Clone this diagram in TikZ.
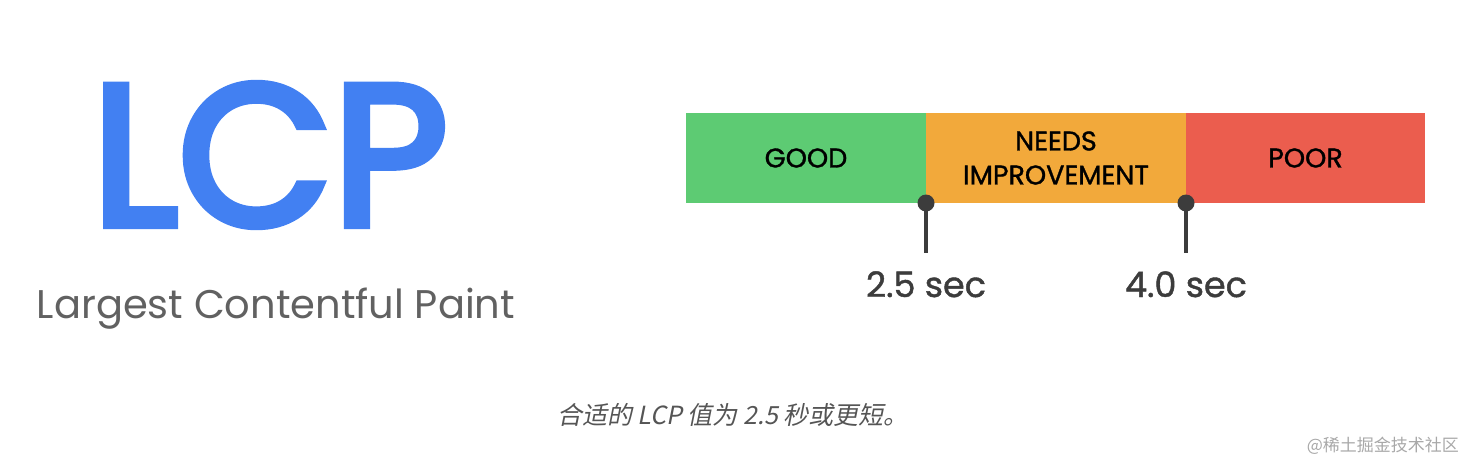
\documentclass[tikz,border=0pt]{standalone}
\usepackage{fontspec}
\setmainfont{Poppins}
\newfontfamily\medfont[FakeBold=1.2]{Poppins}
\newfontfamily\lcpfont[FakeBold=4]{Poppins}
\newfontfamily\cjk{Noto Sans CJK SC}
\newfontfamily\cjkit[FakeSlant=0.2]{Noto Sans CJK SC}
\definecolor{lcpblue}{HTML}{4280F2}
\definecolor{titlegray}{HTML}{616161}
\definecolor{goodgreen}{HTML}{5DCB73}
\definecolor{needorange}{HTML}{F2A93B}
\definecolor{poorred}{HTML}{EB5D4E}
\definecolor{markgray}{HTML}{3C3C3C}
\definecolor{capgray}{HTML}{555555}
\definecolor{wmgray}{HTML}{A8A8A8}
\begin{document}
\begin{tikzpicture}[x=0.5pt,y=-0.5pt,
  seg/.style={minimum height=45pt,inner sep=0pt,outer sep=0pt,font=\medfont\fontsize{13.5}{17}\selectfont,text=black,align=center},
  dot/.style={circle,fill=markgray,inner sep=0pt,minimum size=8.5pt},
  tick/.style={draw=markgray,line width=2pt},
  val/.style={font=\medfont\fontsize{17.5}{20}\selectfont,text=markgray}]
\useasboundingbox (0,0) rectangle (1472,466);
\node[font=\lcpfont\fontsize{100}{100}\selectfont,text=lcpblue,anchor=base] (lcp) at (270,225) {LCP};
\node[font=\fontsize{20}{24}\selectfont,text=titlegray,anchor=base] (title) at (276,318) {Largest Contentful Paint};
\node[seg,fill=goodgreen,minimum width=120pt] (good) at (806,158) {GOOD};
\node[seg,fill=needorange,minimum width=130pt] (need) at (1056,158) {NEEDS\\IMPROVEMENT};
\node[seg,fill=poorred,minimum width=119.5pt] (poor) at (1305.5,158) {POOR};
\node[dot] (d1) at (926,203) {};
\node[dot] (d2) at (1186,203) {};
\coordinate (e1) at (926,253);
\coordinate (e2) at (1186,253);
\draw[tick] (d1.center) -- (e1);
\draw[tick] (d2.center) -- (e2);
\node[val,anchor=base] (v1) at (926,297) {2.5 sec};
\node[val,anchor=base] (v2) at (1186,297) {4.0 sec};
\node[font=\fontsize{12.5}{14}\selectfont,text=capgray,anchor=base] (cap) at (733,424) {\cjkit 合适的 LCP 值为 2.5 秒或更短。};
\node[font=\fontsize{8.5}{10}\selectfont,text=wmgray,anchor=base east] (wm) at (1466,451) {\cjk @稀土掘金技术社区};
\end{tikzpicture}
\end{document}
